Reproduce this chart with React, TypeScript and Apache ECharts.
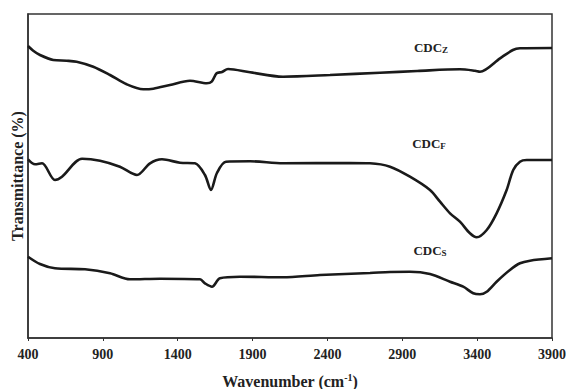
import React, { useEffect, useRef } from "react";
import * as echarts from "echarts";

const wavenumberZ = [400, 435, 480, 569, 658, 725, 836, 948, 1059, 1170, 1237, 1348, 1482, 1594, 1627, 1660, 1696, 1736, 1883, 2103, 2417, 2751, 3000, 3285, 3386, 3419, 3553, 3639, 3686, 3900];
const cdcZ = [292, 287.3, 283, 278, 277.3, 276.3, 271.3, 263, 253.7, 248.7, 249.3, 253, 257.3, 254.7, 256.3, 264.7, 266, 269, 265.7, 261.3, 263, 265.3, 267, 268.7, 267.3, 266.3, 279.7, 288, 289.7, 290];

const wavenumberF = [400, 447, 494, 580, 627, 761, 881, 1014, 1128, 1215, 1295, 1415, 1515, 1582, 1622, 1662, 1722, 1883, 2103, 2550, 2684, 2818, 2951, 3085, 3152, 3219, 3285, 3352, 3397, 3464, 3530, 3597, 3641, 3686, 3731, 3900];
const cdcF = [178.7, 173.7, 174.7, 158, 161.3, 179.3, 177.3, 171.3, 163, 174.7, 178.7, 175.3, 174.7, 163, 148, 165, 176.3, 176.7, 174.7, 175, 174.7, 171.3, 161.3, 148, 136.3, 124.7, 116.3, 104.7, 100.7, 108, 124.7, 148, 168, 176.3, 178, 178];

const wavenumberS = [400, 480, 580, 781, 948, 1081, 1282, 1549, 1582, 1629, 1682, 1816, 2103, 2350, 2684, 2818, 2951, 3085, 3219, 3307, 3374, 3419, 3464, 3530, 3619, 3686, 3753, 3900];
const cdcS = [81.3, 74, 69.7, 68.7, 64.7, 58.7, 59.3, 58.7, 54.7, 51.3, 59.7, 61.3, 60.7, 63, 65, 66, 66.3, 64, 56.3, 51.3, 44.7, 43.7, 46.3, 56.3, 68, 74.7, 77.3, 79.7];

const xTicks = [400, 900, 1400, 1900, 2400, 2900, 3400, 3900];
const seriesNames = ["CDCZ", "CDCF", "CDCS"];

const FONT = "'Liberation Serif', 'Times New Roman', serif";

function pairs(xs: number[], ys: number[]) {
  return xs.map((x, i) => [x, ys[i]]);
}

export default function App() {
  const ref = useRef<HTMLDivElement>(null);
  useEffect(() => {
    if (!ref.current) return;
    const chart = echarts.init(ref.current, undefined, { renderer: "svg" });
    const lineStyle = { color: "#1a1a1a", width: 2.6 };
    const mkLabel = (main: string, sub: string, x: number, y: number) => ({
      type: "text",
      x,
      y,
      style: {
        text: `{a|${main}}{b|${sub}}`,
        align: "center",
        verticalAlign: "middle",
        rich: {
          a: { fontFamily: FONT, fontWeight: "bold", fontSize: 13, fill: "#222" },
          b: { fontFamily: FONT, fontWeight: "bold", fontSize: 9, fill: "#222", padding: [6, 0, 0, 0] },
        },
      },
    });
    chart.setOption({
      animation: false,
      grid: {
        left: 28,
        right: 14,
        top: 14,
        bottom: 51,
        show: true,
        borderColor: "#333",
        borderWidth: 1.5,
        outerBoundsMode: "none",
        containLabel: false,
      },
      xAxis: {
        type: "value",
        min: xTicks[0],
        max: xTicks[xTicks.length - 1],
        interval: 500,
        splitLine: { show: false },
        axisLine: { lineStyle: { color: "#333", width: 1.5 } },
        axisTick: { show: true, length: 3, lineStyle: { color: "#333" } },
        axisLabel: {
          fontFamily: FONT,
          fontWeight: "bold",
          fontSize: 14,
          color: "#222",
          margin: 9,
          formatter: (v: number) => String(v),
        },
        name: "{a|Wavenumber (cm}{b|-1}{a|)}",
        nameLocation: "middle",
        nameGap: 34,
        nameTextStyle: {
          rich: {
            a: { fontFamily: FONT, fontWeight: "bold", fontSize: 16, color: "#222" },
            b: { fontFamily: FONT, fontWeight: "bold", fontSize: 10, color: "#222", padding: [0, 0, 9, 0] },
          },
        },
      },
      yAxis: {
        type: "value",
        min: 0,
        max: 324,
        splitLine: { show: false },
        axisLine: { show: true, lineStyle: { color: "#333", width: 1.5 } },
        axisTick: { show: false },
        axisLabel: { show: false },
        name: "Transmittance (%)",
        nameLocation: "middle",
        nameGap: 3,
        nameTextStyle: { fontFamily: FONT, fontWeight: "bold", fontSize: 16, color: "#222" },
      },
      series: [
        { name: seriesNames[0], type: "line", data: pairs(wavenumberZ, cdcZ), smooth: 0.3, showSymbol: false, lineStyle },
        { name: seriesNames[1], type: "line", data: pairs(wavenumberF, cdcF), smooth: 0.3, showSymbol: false, lineStyle },
        { name: seriesNames[2], type: "line", data: pairs(wavenumberS, cdcS), smooth: 0.3, showSymbol: false, lineStyle },
      ],
      graphic: [
        mkLabel("CDC", "Z", 431, 47),
        mkLabel("CDC", "F", 429, 143),
        mkLabel("CDC", "S", 430, 250),
      ],
    });
    return () => chart.dispose();
  }, []);
  return (
    <div
      ref={ref}
      style={{ position: "fixed", left: 0, top: 0, width: 566, height: 389, background: "#fff" }}
    />
  );
}
